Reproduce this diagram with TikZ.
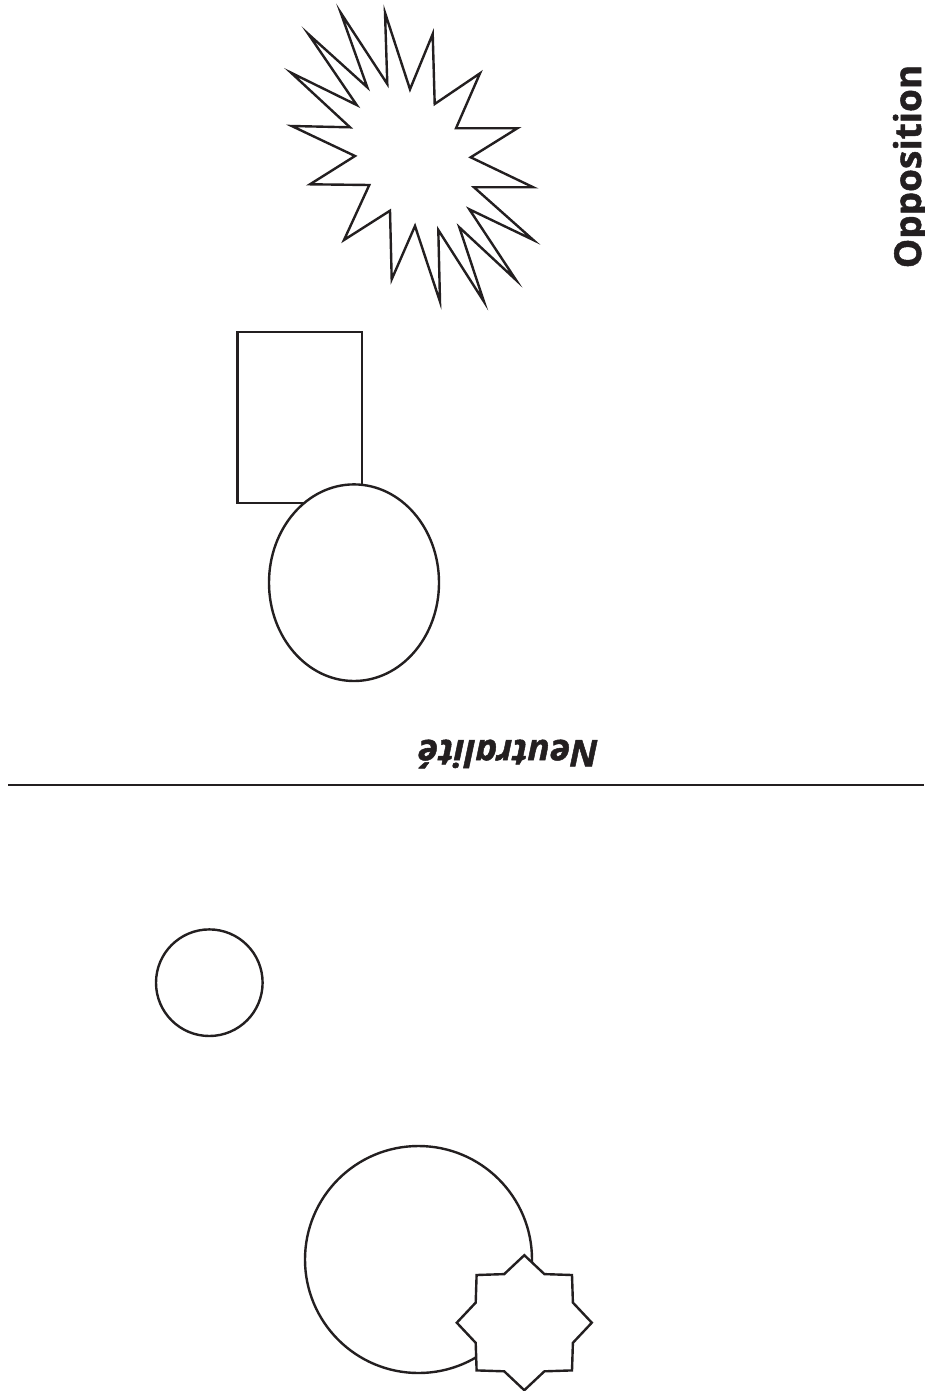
\documentclass[tikz,border=0pt]{standalone}
\usepackage{fontspec}
\setmainfont{Open Sans}
\newfontfamily\heavyfont{Open Sans}[BoldFeatures={FakeBold=1.3},BoldItalicFeatures={FakeBold=1.3}]
\definecolor{ink}{HTML}{231F20}
\begin{document}
\begin{tikzpicture}[x=1pt,y=-1pt,
  shape line/.style={draw=ink,line width=2.4pt,line join=miter,fill=white},
  label text/.style={text=ink,inner sep=0pt,anchor=base}]
\useasboundingbox (0,0) rectangle (924,1391);
% burst star
\draw[shape line] (385,12.7) -- (410,89.3) -- (432.7,34) -- (434.7,104) -- (480,73.3) -- (456,128.3)
  -- (517.3,128.3) -- (470.7,157.3) -- (533.3,187.3) -- (474,187.3) -- (533.3,240) -- (469.3,209.3)
  -- (516,280) -- (459.3,227.3) -- (484,301.7) -- (438.3,230) -- (440,301.7) -- (415,226)
  -- (391.7,279.3) -- (390,210.7) -- (344,240) -- (369.3,185) -- (310,184.3) -- (355,156)
  -- (291.7,126) -- (350,127.3) -- (291,72.7) -- (356.7,105) -- (308.3,34) -- (367.3,87.3)
  -- (340.7,12.7) -- (387.3,84) -- cycle;
% rectangle and ellipse
\draw[shape line] (237.3,331.7) rectangle (361.7,502.7);
\draw[shape line] (354,582.7) ellipse [x radius=85, y radius=98.3];
% Neutralité
\node[label text,rotate=180,font=\heavyfont\fontsize{37}{42}\selectfont\bfseries\itshape] (neutre) at (508,740) {Neutralité};
% divider
\coordinate (lineL) at (8,784.5);
\coordinate (lineR) at (924,784.5);
\draw[draw=ink,line width=2pt] (lineL) -- (lineR);
% Opposition
\node[label text,rotate=90,font=\heavyfont\fontsize{37}{42}\selectfont\bfseries] (oppo) at (921,166.5) {Opposition};
% small circle
\draw[shape line] (209.3,982.7) circle [radius=53.3];
% big circle and 8-point star
\draw[shape line] (418.5,1259.5) circle [radius=113.5];
\draw[shape line] (591.8,1322.7) -- (572.9,1342.8) -- (572.0,1370.4) -- (544.4,1371.3)
  -- (524.3,1390.2) -- (504.2,1371.3) -- (476.6,1370.4) -- (475.7,1342.8)
  -- (456.8,1322.7) -- (475.7,1302.6) -- (476.6,1275.0) -- (504.2,1274.1)
  -- (524.3,1255.2) -- (544.4,1274.1) -- (572.0,1275.0) -- (572.9,1302.6) -- cycle;
\end{tikzpicture}
\end{document}
